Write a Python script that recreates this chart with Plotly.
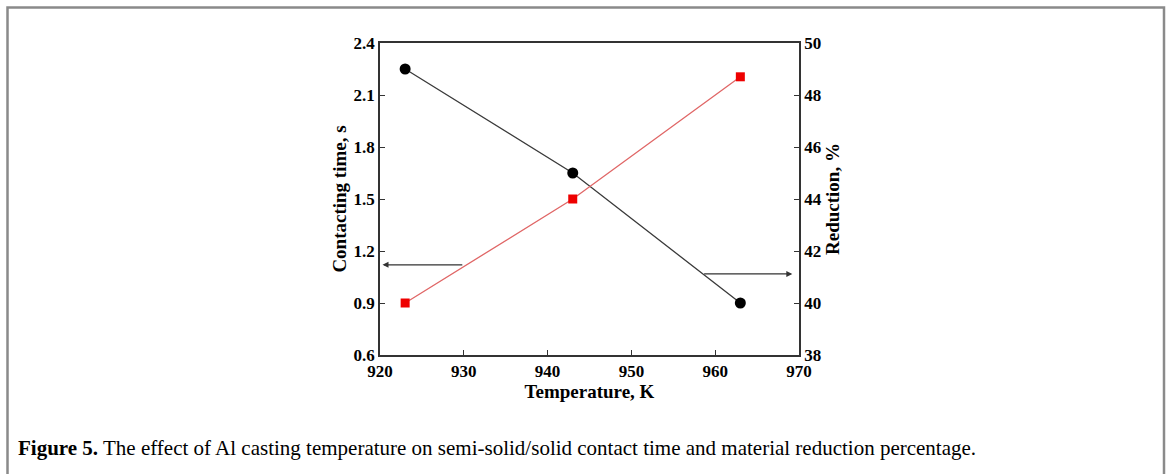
import plotly.graph_objects as go

temperature = [923, 943, 963]
contact_time = [2.25, 1.65, 0.9]
reduction = [40.0, 44.0, 48.7]

x_ticks = [920, 930, 940, 950, 960, 970]
y1_ticks = [0.6, 0.9, 1.2, 1.5, 1.8, 2.1, 2.4]
y2_ticks = [38, 40, 42, 44, 46, 48, 50]

W, H = 1167, 474
L, R, T, B = 380, 799, 43, 355
pw, ph = R - L, B - T

def px(x):
    return (x - L) / pw

def py(y):
    return (B - y) / ph

font = "Liberation Serif, Times New Roman, serif"
tickfont = dict(family=font, size=17, color="black", weight="bold")
titlefont = dict(family=font, size=19, color="black", weight="bold")

fig = go.Figure()
fig.add_trace(go.Scatter(
    x=temperature, y=contact_time, mode="lines+markers",
    line=dict(color="#3a3a3a", width=1.3),
    marker=dict(symbol="circle", size=11, color="black"),
    yaxis="y", showlegend=False))
fig.add_trace(go.Scatter(
    x=temperature, y=reduction, mode="lines+markers",
    line=dict(color="#e06666", width=1.3),
    marker=dict(symbol="square", size=9, color="#ee0000"),
    yaxis="y2", showlegend=False))

axis_common = dict(
    showgrid=False, zeroline=False, showline=True, linecolor="#333333",
    linewidth=1.5, ticks="inside", ticklen=5, tickcolor="#333333",
    tickfont=tickfont,
)

fig.update_layout(
    width=W, height=H,
    margin=dict(l=L, r=W - R, t=T, b=H - B),
    paper_bgcolor="white", plot_bgcolor="white",
    xaxis=dict(range=[920, 970], tickvals=x_ticks, mirror=True,
               title=dict(text="Temperature, K", standoff=0, font=titlefont),
               **axis_common),
    yaxis=dict(range=[0.6, 2.4], tickvals=y1_ticks, tickformat=".1f",
               title=dict(text="Contacting time, s", standoff=2, font=titlefont),
               **axis_common),
    yaxis2=dict(range=[38, 50], tickvals=y2_ticks, overlaying="y", side="right",
                title=dict(text="Reduction, %", standoff=0, font=titlefont),
                **axis_common),
)

# arrows indicating which axis each curve belongs to
fig.add_annotation(x=920.3, y=1.12, ax=930, ay=1.12, xref="x", yref="y",
                   axref="x", ayref="y", text="", showarrow=True,
                   arrowhead=2, arrowsize=1, arrowwidth=1.2, arrowcolor="#333333")
fig.add_annotation(x=969.2, y=41.12, ax=958.5, ay=41.12, xref="x", yref="y2",
                   axref="x", ayref="y2", text="", showarrow=True,
                   arrowhead=2, arrowsize=1, arrowwidth=1.2, arrowcolor="#333333")

# figure frame (left, top, right)
fig.add_shape(type="path", xref="paper", yref="paper",
              path=f"M {px(7.5)},{py(490)} L {px(7.5)},{py(7.5)} L {px(1164)},{py(7.5)} L {px(1164)},{py(490)}",
              line=dict(color="#8a8a8a", width=2.5))

fig.add_annotation(x=px(16), y=py(448), xref="paper", yref="paper",
                   xanchor="left", yanchor="middle", showarrow=False,
                   text="<b>Figure 5.</b> The effect of Al casting temperature on semi-solid/solid contact time and material reduction percentage.",
                   font=dict(family=font, size=21, color="black"))

fig.write_html("out.html")
